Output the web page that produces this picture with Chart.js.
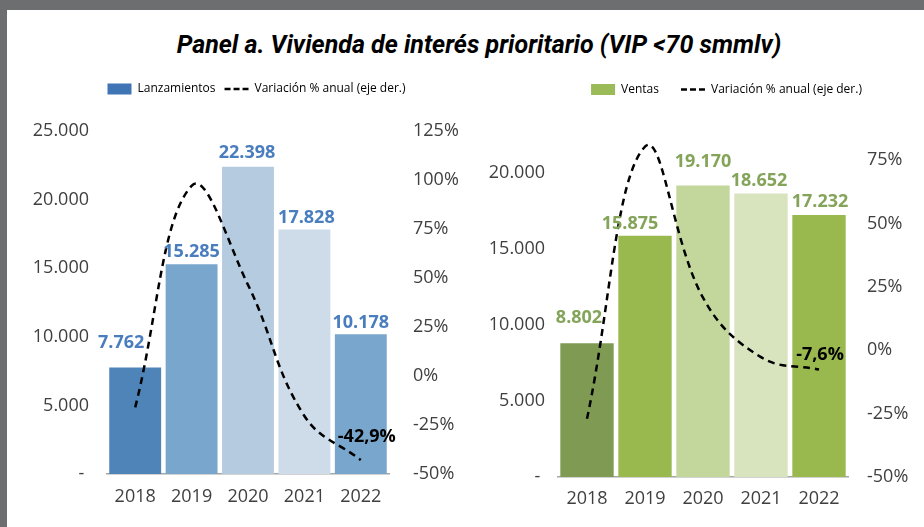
<!DOCTYPE html>
<html lang="es">
<head>
<meta charset="utf-8">
<title>Panel a. Vivienda de interés prioritario</title>
<script src="https://cdn.jsdelivr.net/npm/chart.js@4.4.0/dist/chart.umd.min.js"></script>
<style>
  html, body { margin: 0; padding: 0; }
  body { width: 924px; height: 527px; background: #6d6e70; position: relative; overflow: hidden; }
  #panel { position: absolute; left: 7px; top: 10px; right: 0; bottom: 0; background: #fff; }
  #title { position: absolute; left: 0; top: 30px; width: 958px; text-align: center;
           font: italic bold 25px Roboto, sans-serif; color: #000; white-space: nowrap; }
  canvas { position: absolute; top: 0; }
  #leftChart { left: 7px; }
  #rightChart { left: 460px; }
</style>
</head>
<body>
<div id="panel"></div>
<div id="title">Panel a. Vivienda de interés prioritario (VIP &lt;70 smmlv)</div>
<canvas id="leftChart" width="460" height="527"></canvas>
<canvas id="rightChart" width="464" height="527"></canvas>
<script>
// Data
const years = ['2018', '2019', '2020', '2021', '2022'];
const lanzamientos = [7762, 15285, 22398, 17828, 10178];
const varLanzamientos = [-16, 97, 46.5, -20.4, -42.9];
const ventas = [8802, 15875, 19170, 18652, 17232];
const varVentas = [-27, 80.4, 20.8, -2.7, -7.6];

// Axis ticks
const unitTicksLeft = [0, 5000, 10000, 15000, 20000, 25000];
const pctTicksLeft = [-50, -25, 0, 25, 50, 75, 100, 125];
const unitTicksRight = [0, 5000, 10000, 15000, 20000];
const pctTicksRight = [-50, -25, 0, 25, 50, 75];

const lineLabel = 'Variación % anual (eje der.)';
const tickColor = '#404040';

function fmtThousands(v) {
    return String(Math.round(v)).replace(/\B(?=(\d{3})+(?!\d))/g, '.');
}

function fmtPct(v) {
    return v.toFixed(1).replace('.', ',') + '%';
}

// Extra room under the legend, and a horizontal nudge of the legend row
const legendBox = {
    id: 'legendBox',
    beforeLayout(chart, args, opts) {
        const lg = chart.legend;
        if (!lg || lg._gapPatched) return;
        const fit = lg.fit;
        lg.fit = function () {
            fit.call(this);
            this.height += opts.gap || 0;
        };
        lg._gapPatched = true;
    },
    afterLayout(chart, args, opts) {
        const lg = chart.legend;
        if (!lg) return;
        lg.left += opts.shift || 0;
        lg.right += opts.shift || 0;
    }
};

// Data labels on bars and on the last point of the line
const valueLabels = {
    id: 'valueLabels',
    afterDatasetsDraw(chart, args, o) {
        const ctx = chart.ctx;
        ctx.save();
        ctx.textAlign = 'center';
        ctx.textBaseline = 'middle';
        ctx.font = 'bold 18px "Open Sans"';
        const barData = chart.data.datasets[0].data;
        chart.getDatasetMeta(0).data.forEach((bar, i) => {
            const off = o.barOffsets[i];
            ctx.fillStyle = o.barColor;
            ctx.fillText(fmtThousands(barData[i]), bar.x + off[0], bar.y + off[1]);
        });
        const lineData = chart.data.datasets[1].data;
        const pts = chart.getDatasetMeta(1).data;
        const last = pts.length - 1;
        ctx.fillStyle = '#000';
        ctx.fillText(fmtPct(lineData[last]), pts[last].x + o.lineOffset[0], pts[last].y + o.lineOffset[1]);
        ctx.restore();
    }
};

function makePanel(id, cfg) {
    const tickFont = { family: 'Open Sans', size: 18 };
    return new Chart(document.getElementById(id), {
        type: 'bar',
        data: {
            labels: years,
            datasets: [
                {
                    type: 'bar',
                    label: cfg.barLabel,
                    data: cfg.bars,
                    backgroundColor: cfg.barColors,
                    yAxisID: 'y',
                    order: 1,
                    barPercentage: 0.92,
                    categoryPercentage: 1
                },
                {
                    type: 'line',
                    label: lineLabel,
                    data: cfg.pct,
                    yAxisID: 'y1',
                    borderColor: '#000',
                    borderWidth: 2.5,
                    borderDash: [7, 5],
                    pointRadius: 0,
                    tension: 0.4,
                    order: 0
                }
            ]
        },
        options: {
            responsive: false,
            animation: false,
            layout: { padding: { top: cfg.padTop, left: 0, right: 0, bottom: 0 } },
            plugins: {
                tooltip: { enabled: false },
                legend: {
                    labels: {
                        usePointStyle: true,
                        pointStyleWidth: 24,
                        boxHeight: 11,
                        padding: cfg.legendPad,
                        color: tickColor,
                        font: { family: 'Open Sans', size: 12 },
                        generateLabels: () => [
                            { text: cfg.barLabel, fillStyle: cfg.legendColor, strokeStyle: cfg.legendColor,
                              lineWidth: 0, pointStyle: 'rect', datasetIndex: 0 },
                            { text: lineLabel, fillStyle: '#000', strokeStyle: '#000',
                              lineWidth: 2.5, lineDash: [6, 3], pointStyle: 'line', datasetIndex: 1 }
                        ]
                    }
                },
                legendBox: { gap: cfg.legendGap, shift: cfg.legendShift },
                valueLabels: { barColor: cfg.labelColor, barOffsets: cfg.barOffsets, lineOffset: cfg.lineOffset }
            },
            scales: {
                x: {
                    grid: { display: false, drawTicks: false },
                    border: { display: true, color: '#a6a6a6', width: 1.5 },
                    ticks: { color: tickColor, font: tickFont, padding: cfg.xPad },
                    afterFit: s => { s.height = cfg.xHeight; }
                },
                y: {
                    position: 'left',
                    min: 0,
                    max: 25000,
                    grid: { display: false, drawTicks: false },
                    border: { display: false },
                    afterBuildTicks: s => { s.ticks = cfg.unitTicks.map(v => ({ value: v })); },
                    ticks: {
                        color: tickColor, font: tickFont, padding: cfg.yPad,
                        callback: v => v === 0 ? '- ' : fmtThousands(v)
                    },
                    afterFit: s => { s.width = cfg.yWidth; }
                },
                y1: {
                    position: 'right',
                    min: -50,
                    max: cfg.pctMax,
                    grid: { display: false, drawTicks: false },
                    border: { display: false },
                    afterBuildTicks: s => { s.ticks = cfg.pctTicks.map(v => ({ value: v })); },
                    ticks: {
                        color: tickColor, font: tickFont, padding: cfg.y1Pad,
                        callback: v => v + '%'
                    },
                    afterFit: s => { s.width = cfg.y1Width; }
                }
            }
        },
        plugins: [legendBox, valueLabels]
    });
}

// Left panel: Lanzamientos
makePanel('leftChart', {
    barLabel: 'Lanzamientos',
    bars: lanzamientos,
    pct: varLanzamientos,
    unitTicks: unitTicksLeft,
    pctTicks: pctTicksLeft,
    pctMax: 125,
    barColors: ['#4f84b8', '#78a6cc', '#b5cbe0', '#cedcea', '#78a6cc'],
    legendColor: '#3f75b5',
    labelColor: '#4a7dbd',
    barOffsets: [[-14, -25], [0, -12], [-1, -14], [2, -12], [0, -11]],
    lineOffset: [6, -23],
    padTop: 74,
    legendPad: 9, legendGap: 26, legendShift: 19.5,
    xHeight: 53, xPad: 12,
    yWidth: 100, yPad: 18,
    y1Width: 78, y1Pad: 24
});

// Right panel: Ventas
makePanel('rightChart', {
    barLabel: 'Ventas',
    bars: ventas,
    pct: varVentas,
    unitTicks: unitTicksRight,
    pctTicks: pctTicksRight,
    pctMax: 100,
    barColors: ['#7f9a53', '#99b84e', '#c3d79c', '#d7e4bd', '#99b84e'],
    legendColor: '#9bbb59',
    labelColor: '#84a45a',
    barOffsets: [[-8, -25], [-15, -12], [0, -24], [-2, -13], [1, -13]],
    lineOffset: [1, -15],
    padTop: 61.5,
    legendPad: 22, legendGap: -8.5, legendShift: 34.5,
    xHeight: 50, xPad: 11,
    yWidth: 98, yPad: 13,
    y1Width: 76, y1Pad: 19
});
</script>
</body>
</html>
